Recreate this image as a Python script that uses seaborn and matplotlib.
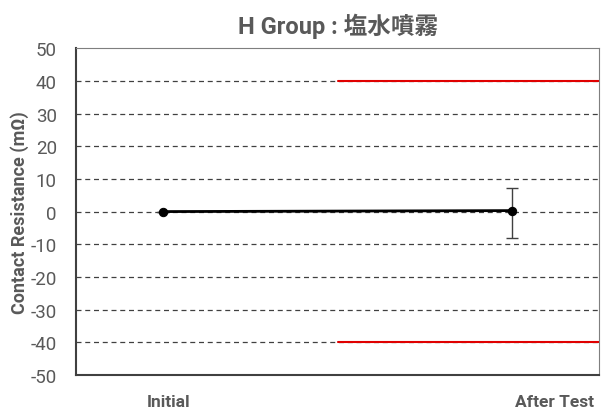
import numpy as np
import pandas as pd
import matplotlib
matplotlib.use('Agg')
import matplotlib.pyplot as plt
import matplotlib.transforms as mtransforms
import seaborn as sns

# Veriler
stages = ['Initial', 'After Test']
mean_vals = [0.0, 0.3]
err_low = [0.0, 8.4]
err_high = [0.0, 6.9]
limit_upper = 40
limit_lower = -40
y_ticks = list(range(-50, 51, 10))

sns.set_theme(style='white')
plt.rcParams['font.family'] = ['Roboto', 'Noto Sans CJK JP', 'DejaVu Sans']

gray = '#595959'
df = pd.DataFrame({'stage': stages, 'value': mean_vals, 'x': range(len(stages))})

fig, ax = plt.subplots(figsize=(6.01, 4.10), dpi=100)
fig.subplots_adjust(left=0.127, right=0.997, top=0.88, bottom=0.083)

# grid çizgileri
for yv in y_ticks[1:-1]:
    ax.axhline(yv, color='#404040', linestyle=(0, (4, 3)), linewidth=0.9, zorder=1)

# limit çizgileri (sağ yarı)
ax.plot([0.5, 1.25], [limit_upper, limit_upper], color='#e00000', linewidth=1.5, zorder=2)
ax.plot([0.5, 1.25], [limit_lower, limit_lower], color='#e00000', linewidth=1.5, zorder=2)

ax.errorbar(df['x'], df['value'], yerr=[err_low, err_high], fmt='none',
            ecolor='#404040', elinewidth=1, capsize=4, capthick=1, zorder=3)
sns.lineplot(data=df, x='x', y='value', color='black', linewidth=2,
             marker='o', markersize=6, markeredgecolor='black', ax=ax, zorder=4)

ax.set_xlim(-0.25, 1.25)
ax.set_ylim(-50, 50)
ax.set_yticks(y_ticks)
ax.set_yticklabels([str(v) for v in y_ticks], color=gray, fontsize=13.5)
ax.set_xticks(df['x'])
ax.set_xticklabels(stages, color=gray, fontsize=12.5, fontweight='bold')
ax.tick_params(axis='x', length=0, pad=14)
ax.tick_params(axis='y', length=0, pad=14)

# etiketleri Excel'deki gibi kaydır
shifts = [5, 42]
for lbl, dx in zip(ax.get_xticklabels(), shifts):
    lbl.set_transform(lbl.get_transform() + mtransforms.ScaledTranslation(dx / 100, 0, fig.dpi_scale_trans))

ax.set_xlabel('')
ax.set_ylabel('Contact Resistance (mΩ)', color=gray, fontsize=13, fontweight='bold', labelpad=1)
ax.set_title('H Group : 塩水噴霧', color=gray, fontsize=17, fontweight='bold', pad=11)

for side in ['left', 'bottom']:
    ax.spines[side].set_color('#404040')
    ax.spines[side].set_linewidth(1.5)
for side in ['top', 'right']:
    ax.spines[side].set_color('#7f7f7f')
    ax.spines[side].set_linewidth(0.8)

plt.savefig('out.png', dpi=100)
plt.close()
